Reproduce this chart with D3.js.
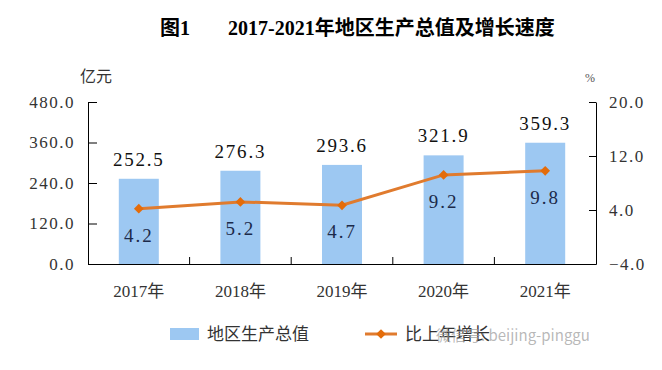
<!DOCTYPE html>
<html>
<head>
<meta charset="utf-8">
<script src="https://cdn.jsdelivr.net/npm/d3@7"></script>
<style>
  body { margin: 0; background: #fff; }
  text { font-family: "Liberation Serif", "Noto Sans CJK SC", serif; }
</style>
</head>
<body>
<div id="chart"></div>
<script>
// data
const years = ["2017年", "2018年", "2019年", "2020年", "2021年"];
const gdp = [252.5, 276.3, 293.6, 321.9, 359.3];
const growth = [4.2, 5.2, 4.7, 9.2, 9.8];
const leftTicks = [0, 120, 240, 360, 480];
const rightTicks = [-4, 4, 12, 20];

const width = 662, height = 370;
const margin = { left: 88, right: 66, top: 102, bottom: 106 };

const svg = d3.select("#chart").append("svg")
  .attr("width", width)
  .attr("height", height);

const x = d3.scaleBand()
  .domain(years)
  .range([margin.left, width - margin.right]);

const yL = d3.scaleLinear()
  .domain([0, 480])
  .range([height - margin.bottom, margin.top]);

const yR = d3.scaleLinear()
  .domain([-4, 20])
  .range([height - margin.bottom, margin.top]);

const fmt = d3.format(".1f");
const barW = 40;

// title
svg.append("text")
  .attr("x", 160).attr("y", 35)
  .attr("font-size", 20).attr("font-weight", "bold")
  .text("图1");
svg.append("text")
  .attr("x", 228).attr("y", 35)
  .attr("font-size", 20).attr("font-weight", "bold")
  .text("2017-2021年地区生产总值及增长速度");

// units
svg.append("text")
  .attr("x", 96).attr("y", 82)
  .attr("text-anchor", "middle")
  .attr("font-size", 16).attr("fill", "#333")
  .text("亿元");
svg.append("text")
  .attr("x", 590).attr("y", 82)
  .attr("text-anchor", "middle")
  .attr("font-size", 12).attr("fill", "#555")
  .text("%");

// bars
svg.selectAll(".bar")
  .data(gdp)
  .enter()
  .append("rect")
  .attr("class", "bar")
  .attr("x", (d, i) => x(years[i]) + x.bandwidth() / 2 - barW / 2)
  .attr("y", d => yL(d))
  .attr("width", barW)
  .attr("height", d => yL(0) - yL(d))
  .attr("fill", "#9DC8F2");

// axes
const axisL = svg.append("g")
  .attr("transform", "translate(" + margin.left + ",0)")
  .call(d3.axisLeft(yL).tickValues(leftTicks).tickSizeInner(-9).tickSizeOuter(0).tickPadding(13).tickFormat(fmt));

const axisR = svg.append("g")
  .attr("transform", "translate(" + (width - margin.right) + ",0)")
  .call(d3.axisRight(yR).tickValues(rightTicks).tickSizeInner(-7).tickSizeOuter(0).tickPadding(13).tickFormat(fmt));

const axisB = svg.append("g")
  .attr("transform", "translate(0," + yL(0) + ")")
  .call(d3.axisBottom(x).tickSize(0).tickPadding(21));

// category dividers on the baseline
svg.selectAll(".divider")
  .data(years.slice(1))
  .enter()
  .append("line")
  .attr("class", "divider")
  .attr("x1", d => x(d)).attr("x2", d => x(d))
  .attr("y1", yL(0)).attr("y2", yL(0) - 7)
  .attr("stroke", "#000");

[axisL, axisR, axisB].forEach(function(a) {
  a.selectAll("path, line").attr("stroke", "#000");
  a.selectAll("text")
    .attr("font-size", 17)
    .attr("letter-spacing", 1.5)
    .attr("fill", "#333")
    .style("font-family", '"Liberation Serif", "Noto Sans CJK SC", serif');
});
axisB.selectAll("text").attr("letter-spacing", 0);

// line
const line = d3.line()
  .x((d, i) => x(years[i]) + x.bandwidth() / 2)
  .y(d => yR(d));

svg.append("path")
  .datum(growth)
  .attr("d", line)
  .attr("fill", "none")
  .attr("stroke", "#E07B2E")
  .attr("stroke-width", 3);

svg.selectAll(".marker")
  .data(growth)
  .enter()
  .append("path")
  .attr("class", "marker")
  .attr("d", d3.symbol(d3.symbolDiamond2, 60)())
  .attr("transform", (d, i) => "translate(" + (x(years[i]) + x.bandwidth() / 2) + "," + yR(d) + ")")
  .attr("fill", "#E46C0A");

// value labels
svg.selectAll(".gdp-label")
  .data(gdp)
  .enter()
  .append("text")
  .attr("class", "gdp-label")
  .attr("x", (d, i) => x(years[i]) + x.bandwidth() / 2)
  .attr("y", d => yL(d) - 13)
  .attr("text-anchor", "middle")
  .attr("font-size", 19)
  .attr("letter-spacing", 1.8)
  .attr("fill", "#111")
  .text(d => fmt(d));

svg.selectAll(".growth-label")
  .data(growth)
  .enter()
  .append("text")
  .attr("class", "growth-label")
  .attr("x", (d, i) => x(years[i]) + x.bandwidth() / 2)
  .attr("y", d => yR(d) + 33)
  .attr("text-anchor", "middle")
  .attr("font-size", 19)
  .attr("letter-spacing", 2)
  .attr("fill", "#1C2A4A")
  .text(d => fmt(d));

// legend
const legend = svg.append("g");
legend.append("rect")
  .attr("x", 170).attr("y", 328)
  .attr("width", 29).attr("height", 12)
  .attr("fill", "#9DC8F2");
legend.append("text")
  .attr("x", 207).attr("y", 340)
  .attr("font-size", 17).attr("fill", "#333")
  .text("地区生产总值");
legend.append("line")
  .attr("x1", 365).attr("x2", 397)
  .attr("y1", 334).attr("y2", 334)
  .attr("stroke", "#E07B2E").attr("stroke-width", 3);
legend.append("path")
  .attr("d", d3.symbol(d3.symbolDiamond2, 60)())
  .attr("transform", "translate(381,334)")
  .attr("fill", "#E46C0A");
legend.append("text")
  .attr("x", 405).attr("y", 340)
  .attr("font-size", 17).attr("fill", "#333")
  .text("比上年增长");

// watermark (sits over the legend in the original)
svg.append("text")
  .attr("x", 436).attr("y", 341)
  .attr("font-size", 15)
  .attr("fill", "#999")
  .attr("fill-opacity", 0.7)
  .style("font-family", '"Noto Sans CJK SC", sans-serif')
  .text("微信号: beijing-pinggu");
</script>
</body>
</html>
